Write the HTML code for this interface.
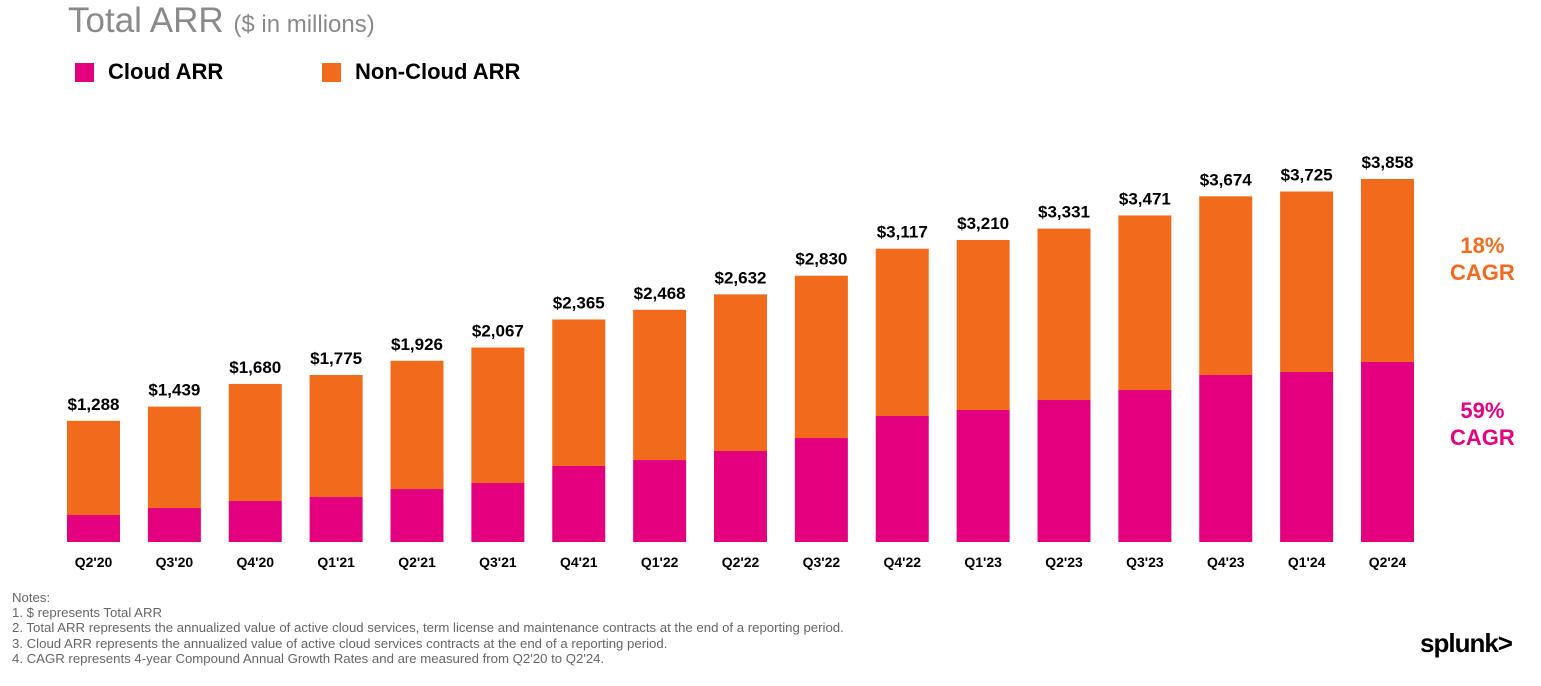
<!DOCTYPE html>
<html><head><meta charset="utf-8"><style>
body{margin:0;width:1541px;height:686px;background:#fff;overflow:hidden;font-family:"Liberation Sans",Arial,sans-serif;position:relative}
.t{position:absolute;white-space:nowrap}
</style></head><body>
<div class="t" style="left:68px;top:1px;font-size:35px;color:#8a8a8a">Total ARR <span style="font-size:24px">($ in millions)</span></div>
<div class="t" style="left:75px;top:59px;font-size:22px;font-weight:bold;color:#000"><span style="display:inline-block;width:19px;height:19px;background:#e3007f;vertical-align:-3px;margin-right:14px"></span>Cloud ARR</div>
<div class="t" style="left:322px;top:59px;font-size:22px;font-weight:bold;color:#000"><span style="display:inline-block;width:19px;height:19px;background:#f26b1d;vertical-align:-3px;margin-right:14px"></span>Non-Cloud ARR</div>
<svg id="chart" width="1541" height="686" style="position:absolute;left:0;top:0"></svg>
<div class="t" style="left:1450px;top:232px;font-size:22px;font-weight:bold;color:#f26b1d;text-align:center;line-height:27px">18%<br>CAGR</div>
<div class="t" style="left:1450px;top:397px;font-size:22px;font-weight:bold;color:#e3007f;text-align:center;line-height:27px">59%<br>CAGR</div>
<div class="t" style="left:12px;top:590px;font-size:13.2px;color:#666;line-height:15.2px">Notes:<br>1. $ represents Total ARR<br>2. Total ARR represents the annualized value of active cloud services, term license and maintenance contracts at the end of a reporting period.<br>3. Cloud ARR represents the annualized value of active cloud services contracts at the end of a reporting period.<br>4. CAGR represents 4-year Compound Annual Growth Rates and are measured from Q2'20 to Q2'24.</div>
<div class="t" style="left:1420px;top:628px;font-size:26px;font-weight:bold;color:#000;letter-spacing:-1px">splunk&gt;</div>
<script>
const categories=["Q2'20","Q3'20","Q4'20","Q1'21","Q2'21","Q3'21","Q4'21","Q1'22","Q2'22","Q3'22","Q4'22","Q1'23","Q2'23","Q3'23","Q4'23","Q1'24","Q2'24"];
const totalARR=[1288,1439,1680,1775,1926,2067,2365,2468,2632,2830,3117,3210,3331,3471,3674,3725,3858];
const cloudARR=[287,361,436,478,563,627,808,871,967,1105,1339,1403,1509,1615,1775,1807,1913];
const labels=["$1,288","$1,439","$1,680","$1,775","$1,926","$2,067","$2,365","$2,468","$2,632","$2,830","$3,117","$3,210","$3,331","$3,471","$3,674","$3,725","$3,858"];
const svg=document.getElementById('chart');const NS='http://www.w3.org/2000/svg';
const base=542,k=363/3858;
const y=v=>base-v*k;
const x=i=>67+i*80.875;
const bw=53;
function mk(t,a){const e=document.createElementNS(NS,t);for(const n in a)e.setAttribute(n,a[n]);svg.appendChild(e);return e;}
categories.forEach((c,i)=>{
 const nc=mk('rect',{x:x(i),y:y(totalARR[i]),width:bw,height:(totalARR[i]-cloudARR[i])*k,fill:'#f26b1d'});
 
 
 const cl=mk('rect',{x:x(i),y:y(cloudARR[i]),width:bw,height:cloudARR[i]*k,fill:'#e3007f'});
 
 
 const vl=mk('text',{x:x(i)+bw/2,y:y(totalARR[i])-11,'text-anchor':'middle','font-size':'17','font-weight':'bold',fill:'#000','font-family':'Liberation Sans, sans-serif'});
 vl.textContent=labels[i];
 
 
 const cx=mk('text',{x:x(i)+bw/2,y:567,'text-anchor':'middle','font-size':'14','font-weight':'bold',fill:'#000','font-family':'Liberation Sans, sans-serif'});
 cx.textContent=c;
 
 
});
</script>
</body></html>
